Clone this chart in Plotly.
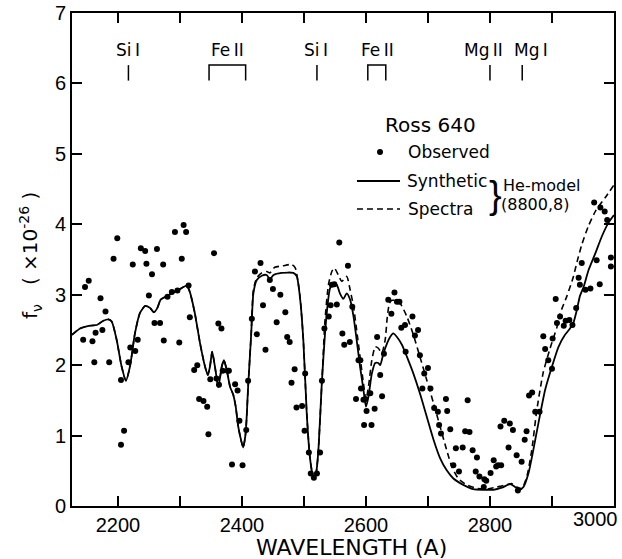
import plotly.graph_objects as go

# ---------------- data ----------------
syn_wl = [2126, 2139, 2155, 2166, 2176.5, 2184.5, 2190, 2198, 2206, 2213, 2219.5, 2227.5, 2235.5, 2244,
          2252, 2258, 2263.5, 2269, 2279, 2289, 2300, 2311, 2316, 2324, 2332.5, 2340.5, 2345, 2348.5,
          2352, 2356.5, 2362, 2367.5, 2371, 2375.5, 2381, 2386, 2390, 2394, 2398.5, 2402, 2406, 2410,
          2415, 2418.5, 2424, 2432, 2440, 2445, 2451, 2464, 2483, 2488.5, 2494, 2499, 2504.5, 2509,
          2512.5, 2516, 2519.5, 2523, 2529, 2534, 2538.5, 2542, 2547.5, 2553, 2558, 2563.5, 2569,
          2574.5, 2580, 2585, 2590.5, 2596, 2600, 2604, 2609.5, 2615, 2620, 2623, 2628, 2634.5, 2639,
          2644, 2650, 2658, 2666, 2676.5, 2687, 2698, 2709, 2719.5, 2730, 2741, 2757, 2773, 2789.5,
          2805.5, 2819, 2832.5, 2840.5, 2847.5, 2854, 2862, 2870, 2878, 2889, 2900, 2910.5, 2921,
          2929, 2934.5, 2940, 2945, 2951, 2959, 2970, 2980.5, 2991, 3000]
syn_f = [2.43, 2.52, 2.56, 2.57, 2.63, 2.65, 2.62, 2.36, 1.98, 1.78, 1.98, 2.45, 2.74, 2.84,
         2.81, 2.75, 2.81, 2.93, 2.98, 3.03, 3.08, 3.13, 3.04, 2.74, 2.31, 1.98, 1.86, 1.98,
         2.19, 1.98, 1.69, 1.98, 2.07, 1.93, 1.69, 1.58, 1.41, 1.13, 0.94, 0.83, 1.03, 1.69,
         2.45, 3.02, 3.21, 3.27, 3.28, 3.22, 3.28, 3.31, 3.31, 3.26, 2.93, 2.36, 1.32, 0.75,
         0.51, 0.39, 0.46, 0.75, 1.77, 2.45, 2.88, 3.09, 3.16, 3.14, 3.02, 2.94, 3.02,
         2.93, 2.69, 2.36, 1.98, 1.65, 1.41, 1.55, 1.88, 2.03, 2.03, 2.00, 2.16, 2.32, 2.40,
         2.45, 2.40, 2.29, 2.12, 1.88, 1.60, 1.27, 0.94, 0.68, 0.51, 0.39, 0.30, 0.24, 0.23,
         0.23, 0.26, 0.31, 0.27, 0.23, 0.27, 0.46, 0.80, 1.17, 1.65, 1.98, 2.26, 2.43,
         2.52, 2.60, 2.78, 2.98, 3.11, 3.35, 3.59, 3.83, 4.02, 4.13]

spec_wl = [2126, 2139, 2155, 2166, 2176.5, 2184.5, 2190, 2198, 2206, 2213, 2219.5, 2227.5, 2235.5, 2244,
           2252, 2258, 2263.5, 2269, 2279, 2289, 2300, 2311, 2316, 2324, 2332.5, 2340.5, 2345, 2348.5,
           2352, 2356.5, 2362, 2367.5, 2371, 2375.5, 2381, 2386, 2390, 2394, 2398.5, 2402, 2406, 2410,
           2415, 2418.5, 2424, 2432, 2440, 2445, 2453, 2466, 2480, 2486, 2490, 2494, 2499, 2504.5,
           2509, 2512.5, 2516, 2519.5, 2523, 2529, 2534, 2539.5, 2545, 2549, 2555.5, 2561, 2569,
           2574.5, 2580, 2585, 2590.5, 2596, 2600, 2604, 2609.5, 2615, 2620, 2625.5, 2631, 2634.5,
           2638, 2642, 2647, 2655, 2666, 2676.5, 2687, 2698, 2709, 2719.5, 2730, 2738.5, 2749,
           2762.5, 2779, 2795, 2811, 2827, 2835, 2843, 2851.5, 2859.5, 2867.5, 2875.5, 2886, 2897,
           2908, 2913, 2924, 2934, 2940.5, 2948, 2959, 2971, 2986, 3000]
spec_f = [2.43, 2.52, 2.56, 2.57, 2.63, 2.65, 2.62, 2.36, 1.98, 1.78, 1.98, 2.45, 2.74, 2.84,
          2.81, 2.75, 2.81, 2.93, 2.98, 3.03, 3.08, 3.13, 3.04, 2.74, 2.31, 1.98, 1.86, 1.98,
          2.19, 1.98, 1.69, 1.98, 2.07, 1.93, 1.69, 1.58, 1.41, 1.13, 0.94, 0.83, 1.03, 1.69,
          2.45, 3.07, 3.24, 3.31, 3.33, 3.31, 3.39, 3.41, 3.43, 3.38, 3.21, 2.95, 2.36, 1.32,
          0.75, 0.51, 0.39, 0.46, 0.75, 1.77, 2.64, 3.14, 3.33, 3.38, 3.28, 3.19, 3.26,
          3.07, 2.83, 2.50, 2.12, 1.74, 1.51, 1.69, 2.07, 2.26, 2.24, 2.17, 2.36, 2.69,
          2.88, 2.92, 2.92, 2.88, 2.69, 2.43, 2.12, 1.79, 1.46, 1.13, 0.80, 0.56, 0.39,
          0.30, 0.25, 0.24, 0.27, 0.30, 0.32, 0.27, 0.25, 0.42, 0.80, 1.36, 1.90, 2.24,
          2.54, 2.73, 2.98, 3.24, 3.47, 3.71, 3.98, 4.20, 4.38, 4.56]

obs_wl = [2147, 2153, 2144, 2159, 2164, 2175, 2172, 2180, 2162, 2186, 2193, 2199, 2205, 2210, 2205,
          2217, 2220, 2228, 2232, 2224, 2237, 2244, 2246, 2255, 2250, 2259, 2268, 2263, 2273, 2274,
          2280, 2287, 2296, 2292, 2306, 2310, 2303, 2299, 2314, 2316, 2355, 2323, 2328, 2331, 2338,
          2344, 2346, 2349, 2359, 2363, 2362, 2367, 2369, 2377, 2379, 2389, 2393, 2396, 2384, 2401,
          2407, 2410, 2416, 2424, 2421, 2430, 2434, 2438, 2445, 2450, 2456, 2462, 2470, 2473, 2477,
          2480, 2485, 2488, 2497, 2501, 2502, 2508, 2511, 2516, 2521, 2526, 2529, 2533, 2540, 2543,
          2545, 2549, 2553, 2557, 2562, 2565, 2571, 2574, 2578, 2588, 2591, 2584, 2592, 2596, 2601,
          2599, 2607, 2597, 2609, 2614, 2618, 2623, 2626, 2629, 2636, 2641, 2646, 2650, 2654, 2657,
          2663, 2664, 2675, 2679, 2684, 2687, 2694, 2700, 2691, 2704, 2710, 2716, 2718, 2721, 2729,
          2731, 2736, 2741, 2745, 2750, 2756, 2760, 2767, 2764, 2772, 2779, 2777, 2783, 2791, 2794,
          2790, 2801, 2806, 2810, 2813, 2818, 2817, 2823, 2832, 2837, 2830, 2843, 2851, 2845, 2856,
          2859, 2863, 2868, 2873, 2880, 2886, 2889, 2894, 2900, 2901, 2906, 2908, 2913, 2919, 2922,
          2928, 2933, 2939, 2943, 2945, 2954, 2962, 2977, 2948, 2972, 2968, 2978, 2985, 2989, 2995,
          2995]
obs_f = [3.11, 3.20, 2.36, 2.34, 2.46, 2.50, 2.95, 2.76, 2.04, 2.04, 3.51, 3.80, 1.79, 1.07, 0.87,
         2.04, 2.25, 2.20, 2.36, 3.43, 3.66, 3.62, 3.44, 3.29, 2.99, 2.60, 2.60, 3.65, 3.43, 2.35,
         2.97, 3.04, 3.06, 3.89, 3.99, 3.89, 3.51, 2.32, 3.13, 2.68, 3.59, 1.93, 2.00, 1.52, 1.49,
         1.41, 1.02, 1.80, 1.81, 1.72, 2.59, 2.52, 1.92, 1.92, 1.92, 1.73, 1.64, 1.21, 0.59, 0.58,
         1.08, 1.78, 2.66, 2.44, 3.33, 3.45, 2.85, 2.22, 3.21, 3.08, 2.61, 3.00, 2.75, 2.40, 2.33,
         1.75, 1.94, 1.40, 1.42, 1.07, 1.88, 0.76, 0.46, 0.40, 0.46, 0.76, 1.78, 2.52, 2.69, 2.85,
         3.14, 3.15, 2.86, 3.74, 2.45, 2.29, 3.41, 2.33, 2.83, 2.07, 2.07, 1.52, 1.67, 1.51, 1.35,
         1.52, 1.60, 1.15, 1.15, 1.38, 2.40, 1.86, 1.56, 2.16, 2.93, 2.73, 3.03, 2.90, 2.90, 2.53,
         2.57, 2.19, 2.69, 2.42, 2.50, 2.14, 1.88, 1.96, 1.67, 1.67, 1.39, 1.34, 1.15, 1.03, 1.52,
         1.35, 1.09, 0.58, 0.82, 0.49, 0.83, 1.06, 1.05, 1.50, 0.79, 0.69, 0.49, 0.42, 0.38, 0.36,
         0.27, 0.47, 0.65, 0.56, 0.58, 0.58, 1.13, 1.21, 1.17, 1.08, 0.83, 0.72, 0.63, 0.22, 0.94,
         1.06, 1.57, 1.61, 1.34, 1.34, 2.41, 2.23, 2.07, 1.95, 2.38, 2.94, 2.60, 2.69, 2.56, 2.63,
         2.64, 2.57, 2.81, 3.24, 3.14, 3.07, 3.09, 3.15, 3.45, 3.49, 4.31, 4.24, 4.18, 4.06, 3.53,
         3.40]

# line identifications at the top
id_names = ["Si\u2009I", "Fe\u2009II", "Si\u2009I", "Fe\u2009II", "Mg\u2009II", "Mg\u2009I"]
id_label_wl = [2215.5, 2377.5, 2520, 2619, 2789, 2866]
id_lo_wl = [2217, 2347, 2521, 2603, 2800, 2852]
id_hi_wl = [2217, 2406, 2521, 2632, 2800, 2852]

x_tickvals = [2200, 2400, 2600, 2800]
x_ticktext = ["2200", "2400", "2600", "2800"]
x_edge_label = "3000"
y_tickvals = [0, 1, 2, 3, 4, 5, 6, 7]

# ---------------- figure ----------------
fig = go.Figure()
fig.add_trace(go.Scatter(x=syn_wl, y=syn_f, mode="lines",
                         line=dict(color="black", width=1.8, shape="spline", smoothing=0.6),
                         hoverinfo="skip", showlegend=False))
fig.add_trace(go.Scatter(x=spec_wl, y=spec_f, mode="lines",
                         line=dict(color="black", width=1.6, dash="6px,4px", shape="spline", smoothing=0.6),
                         hoverinfo="skip", showlegend=False))
fig.add_trace(go.Scatter(x=obs_wl, y=obs_f, mode="markers", marker=dict(color="black", size=6),
                         hoverinfo="skip", showlegend=False))

shapes = []
annotations = []
y_lo, y_hi, y_lab = 6.04, 6.26, 6.48
for name, xl, lo, hi in zip(id_names, id_label_wl, id_lo_wl, id_hi_wl):
    if lo == hi:
        shapes.append(dict(type="line", xref="x", yref="y", x0=lo, x1=lo, y0=y_lo, y1=y_hi,
                           line=dict(color="black", width=1.5)))
    else:
        shapes.append(dict(type="path", xref="x", yref="y",
                           path=f"M {lo},{y_lo} L {lo},{y_hi} L {hi},{y_hi} L {hi},{y_lo}",
                           line=dict(color="black", width=1.5)))
    annotations.append(dict(x=xl, y=y_lab, xref="x", yref="y", text=name, showarrow=False,
                            font=dict(family="DejaVu Sans", size=17, color="black"),
                            xanchor="center", yanchor="middle"))

# legend drawn by hand (paper coordinates)
lfont = dict(family="DejaVu Sans", size=17, color="black")
sfont = dict(family="DejaVu Sans", size=16, color="black")
annotations += [
    dict(x=0.662, y=0.773, xref="paper", yref="paper", text="Ross 640", showarrow=False,
         font=dict(family="DejaVu Sans", size=20, color="black"), xanchor="center", yanchor="middle"),
    dict(x=0.616, y=0.718, xref="paper", yref="paper", text="Observed", showarrow=False,
         font=lfont, xanchor="left", yanchor="middle"),
    dict(x=0.614, y=0.659, xref="paper", yref="paper", text="Synthetic", showarrow=False,
         font=lfont, xanchor="left", yanchor="middle"),
    dict(x=0.616, y=0.602, xref="paper", yref="paper", text="Spectra", showarrow=False,
         font=lfont, xanchor="left", yanchor="middle"),
    dict(x=0.782, y=0.631, xref="paper", yref="paper", text="}", showarrow=False,
         font=dict(family="Liberation Sans", size=38, color="black"), xanchor="center", yanchor="middle"),
    dict(x=0.791, y=0.651, xref="paper", yref="paper", text="He-model", showarrow=False,
         font=sfont, xanchor="left", yanchor="middle"),
    dict(x=0.787, y=0.612, xref="paper", yref="paper", text="(8800,8)", showarrow=False,
         font=sfont, xanchor="left", yanchor="middle"),
    # edge tick label
    dict(x=0.965, y=-0.026, xref="paper", yref="paper", text=x_edge_label, showarrow=False,
         font=dict(family="Liberation Sans", size=20, color="black"), xanchor="center", yanchor="middle"),
    # axis titles
    dict(x=0.515, y=-0.085, xref="paper", yref="paper", text="WAVELENGTH (A)", showarrow=False,
         font=dict(family="DejaVu Sans", size=22, color="black"), xanchor="center", yanchor="middle"),
    dict(x=-0.0775, y=0.509, xref="paper", yref="paper",
         text="f<sub>ν</sub>   ( ×10<sup>-26</sup> )", textangle=-90, showarrow=False,
         font=dict(family="DejaVu Sans", size=20, color="black"), xanchor="center", yanchor="middle"),
]
dx, dy = 3 / 542, 3 / 493
shapes += [
    dict(type="circle", xref="paper", yref="paper", x0=0.5683 - dx, x1=0.5683 + dx, y0=0.7181 - dy,
         y1=0.7181 + dy, fillcolor="black", line=dict(color="black", width=0)),
    dict(type="line", xref="paper", yref="paper", x0=0.5258, x1=0.6052, y0=0.6592, y1=0.6592,
         line=dict(color="black", width=1.8)),
    dict(type="line", xref="paper", yref="paper", x0=0.5258, x1=0.6052, y0=0.6024, y1=0.6024,
         line=dict(color="black", width=1.6, dash="6px,4px")),
]

axis_common = dict(showline=True, linewidth=2, linecolor="black", mirror="ticks", ticks="inside",
                   ticklen=10, tickwidth=1.5, tickcolor="black", showgrid=False, zeroline=False,
                   automargin=False,
                   tickfont=dict(family="Liberation Sans", size=20, color="black"))
fig.update_layout(
    width=622, height=559,
    margin=dict(l=72, r=8, t=13, b=53, autoexpand=False),
    paper_bgcolor="white", plot_bgcolor="white",
    xaxis=dict(range=[2126, 3000], tickvals=x_tickvals, ticktext=x_ticktext,
               minor=dict(tick0=2100, dtick=100, ticks="inside", ticklen=10, tickwidth=1.5,
                          tickcolor="black", showgrid=False),
               **axis_common),
    yaxis=dict(range=[0, 7], tickvals=y_tickvals, ticklabeloverflow="allow", **axis_common),
    shapes=shapes, annotations=annotations, showlegend=False,
)

fig.write_html("out.html", config={"displayModeBar": False},
               post_script="document.body.style.margin='0';document.body.style.overflow='hidden';")
